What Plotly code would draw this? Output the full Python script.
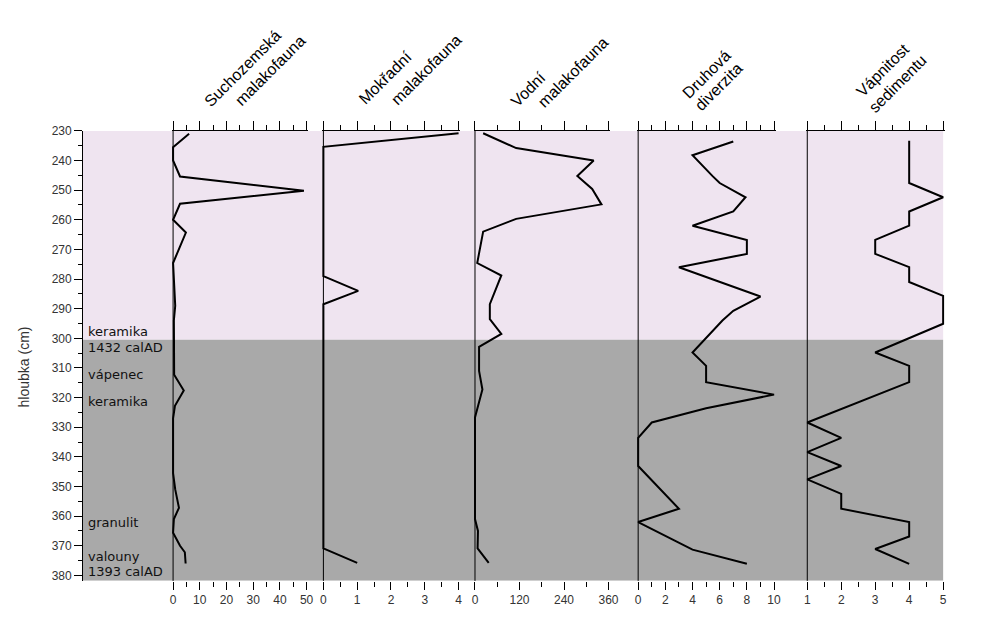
import plotly.graph_objects as go

# ---------------- data ----------------
depth_sucho = [231, 235.5, 240, 245.4, 250.2, 254.6, 260, 264.3, 274.6, 279, 284, 289, 294, 299,
               304, 312.3, 317.6, 322.8, 327, 345.5, 351, 357.2, 361, 365.6, 370, 372.2, 376]
sucho = [6, 0, 0, 2.6, 49, 2.6, 0, 4.8, 0, 0.3, 0.6, 0.8, 0.3, 0.3,
         0.5, 0.4, 4, 0.7, 0, 0, 0.8, 2.2, 0.3, 0, 2.6, 4.4, 4.7]

depth_mokr = [230.8, 235.4, 279, 284, 288.5, 370.9, 375.8]
mokr = [4, 0, 0, 1.03, 0, 0, 1]

depth_vodni = [230.8, 235.8, 240, 245.2, 249.6, 254.8, 259.7, 264, 274.6, 278.8, 288.5, 293.5,
               298.5, 302.9, 311, 317.3, 326.7, 361, 365, 370.9, 375.8]
vodni = [22, 111, 320, 276, 316, 341, 111, 22, 6, 71, 40, 40,
         71, 11, 11, 20, 0, 0, 8, 7, 37]

depth_div = [233.6, 238.2, 245.2, 247.6, 252.4, 257.2, 262, 266.8, 271.5, 276, 285.9, 290.7,
             294, 299.5, 304.8, 309.3, 314.8, 319, 323.6, 328.4, 333.6, 343.1, 357.5, 362,
             371.3, 376.1]
diverzita = [7, 4, 5.46, 6, 7.9, 7, 4, 8, 8, 3, 9, 7,
             6.2, 5.1, 4, 5, 5, 10, 5, 1, 0, 0, 3, 0,
             4, 8]

depth_vap = [233.3, 247.6, 252.4, 257.2, 262, 266.8, 271.5, 276, 281, 285.7, 295.1, 304.8,
             309.3, 314.8, 328.4, 333.6, 338.4, 343.1, 347.6, 352.5, 357.5, 362, 366.9,
             371.1, 376.1]
vapnitost = [4, 4, 5, 4, 4, 3, 3, 4, 4, 5, 5, 3,
             4, 4, 1, 2, 1, 2, 1, 2, 2, 4, 4,
             3, 4]

header_line1 = ["Suchozemská", "Mokřadní", "Vodní", "Druhová", "Vápnitost"]
header_line2 = ["malakofauna", "malakofauna", "malakofauna", "diverzita", "sedimentu"]

axis_min = [0, 0, 0, 0, 1]
axis_max = [50, 4, 360, 10, 5]
major_step = [10, 1, 120, 2, 1]
minor_step = [5, 0.5, 60, 1, 0.5]

layer_labels = ["keramika", "1432 calAD", "vápenec", "keramika", "granulit", "valouny", "1393 calAD"]

depth_top, depth_zone, depth_bottom = 230, 300.5, 381.85

# ---------------- layout geometry (window pixels) ----------------
W, H = 992, 621
panel_px = [(173, 308), (325, 461.7), (478.3, 613.3), (643.3, 780.7), (814.3, 951.7)]
y_top_px, y_bot_px = 125.7, 582.3
yaxis_x_px = 81
bg_x_px = (81, 951.7)
header_pos = [((243, 62), (271, 64)), ((388, 72), (429, 63)), ((532, 84), (577, 66)),
              ((712, 68), (725, 81)), ((890, 64), (906, 78))]
layer_label_y = [329, 345, 373.3, 400.7, 523.3, 557.7, 573.3]
layer_label_x = 85

def px_x(p):
    return p / W

def px_y(p):
    return 1 - p / H

FONT = "Liberation Sans, Arial, sans-serif"

series_depth = [depth_sucho, depth_mokr, depth_vodni, depth_div, depth_vap]
series_vals = [sucho, mokr, vodni, diverzita, vapnitost]

fig = go.Figure()
layout = dict(
    width=W, height=H, autosize=False,
    margin=dict(l=0, r=0, t=0, b=0),
    paper_bgcolor="white", plot_bgcolor="rgba(0,0,0,0)",
    showlegend=False,
    font=dict(family=FONT, size=12, color="#333"),
    yaxis=dict(
        domain=[px_y(y_bot_px), px_y(y_top_px)],
        range=[depth_bottom, depth_top], autorange=False,
        anchor="free", position=px_x(yaxis_x_px),
        showline=True, linecolor="black", linewidth=1,
        ticks="outside", ticklen=8, tickcolor="black", tickwidth=1,
        tickmode="linear", tick0=230, dtick=10,
        minor=dict(dtick=5, tick0=230, ticks="outside", ticklen=4, tickcolor="black", showgrid=False),
        showgrid=False, zeroline=False,
        tickfont=dict(family=FONT, size=12, color="#333"),
    ),
)

shapes = [
    dict(type="rect", xref="paper", yref="y", x0=px_x(bg_x_px[0]), x1=px_x(bg_x_px[1]),
         y0=depth_top, y1=depth_zone, fillcolor="#EFE4F0", line=dict(width=0), layer="below"),
    dict(type="rect", xref="paper", yref="y", x0=px_x(bg_x_px[0]), x1=px_x(bg_x_px[1]),
         y0=depth_zone, y1=depth_bottom, fillcolor="#A9A9A9", line=dict(width=0), layer="below"),
]

pad = 1.5
for i in range(5):
    n = i + 1
    nt = i + 6
    x0, x1 = panel_px[i]
    v0, v1 = axis_min[i], axis_max[i]
    s = (x1 - x0) / (v1 - v0)
    rng = [v0 - pad / s, v1 + pad / s]
    dom = [px_x(x0 - pad), px_x(x1 + pad)]
    common = dict(
        domain=dom, range=rng, autorange=False, anchor="y",
        tickmode="linear", tick0=v0, dtick=major_step[i],
        ticks="outside", tickcolor="black", tickwidth=1,
        showgrid=False, zeroline=False,
    )
    layout[f"xaxis{n}" if n > 1 else "xaxis"] = dict(
        **common, side="bottom", ticklen=8, showline=False,
        minor=dict(dtick=minor_step[i], tick0=v0, ticks="outside", ticklen=5,
                   tickcolor="black", showgrid=False),
        tickfont=dict(family=FONT, size=12, color="#333"),
    )
    layout[f"xaxis{nt}"] = dict(
        **common, side="top", ticklen=9, overlaying=("x" if n == 1 else f"x{n}"),
        showline=True, linecolor="black", linewidth=1, showticklabels=False,
        minor=dict(dtick=minor_step[i], tick0=v0, ticks="outside", ticklen=5,
                   tickcolor="black", showgrid=False),
    )
    xname = "x" if n == 1 else f"x{n}"
    fig.add_trace(go.Scatter(
        x=series_vals[i], y=series_depth[i], mode="lines",
        line=dict(color="black", width=2), xaxis=xname, yaxis="y", hoverinfo="skip"))
    fig.add_trace(go.Scatter(
        x=series_vals[i], y=series_depth[i], mode="lines", opacity=0,
        line=dict(color="black", width=1), xaxis=f"x{nt}", yaxis="y", hoverinfo="skip"))
    shapes.append(dict(type="line", xref=xname, yref="paper", x0=v0, x1=v0,
                       y0=px_y(y_bot_px), y1=px_y(y_top_px),
                       line=dict(color="black", width=1)))

annotations = []
for i in range(5):
    for txt, (cx, cy) in zip([header_line1[i], header_line2[i]], header_pos[i]):
        annotations.append(dict(
            text=txt, xref="paper", yref="paper", x=px_x(cx), y=px_y(cy),
            xanchor="center", yanchor="middle", textangle=-45, showarrow=False,
            font=dict(family=FONT, size=16, color="black")))

for txt, yy in zip(layer_labels, layer_label_y):
    annotations.append(dict(
        text=txt, xref="paper", yref="paper", x=px_x(layer_label_x), y=px_y(yy),
        xanchor="left", yanchor="middle", showarrow=False,
        font=dict(family="DejaVu Sans", size=13, color="#111")))

annotations.append(dict(
    text="hloubka (cm)", xref="paper", yref="paper", x=px_x(22), y=px_y(365),
    xanchor="center", yanchor="middle", textangle=-90, showarrow=False,
    font=dict(family=FONT, size=14, color="#333")))

layout["shapes"] = shapes
layout["annotations"] = annotations
fig.update_layout(**layout)

fig.write_html(
    "out.html",
    config={"responsive": False, "displayModeBar": False},
    post_script="document.body.style.margin='0';document.body.style.overflow='hidden';",
)
